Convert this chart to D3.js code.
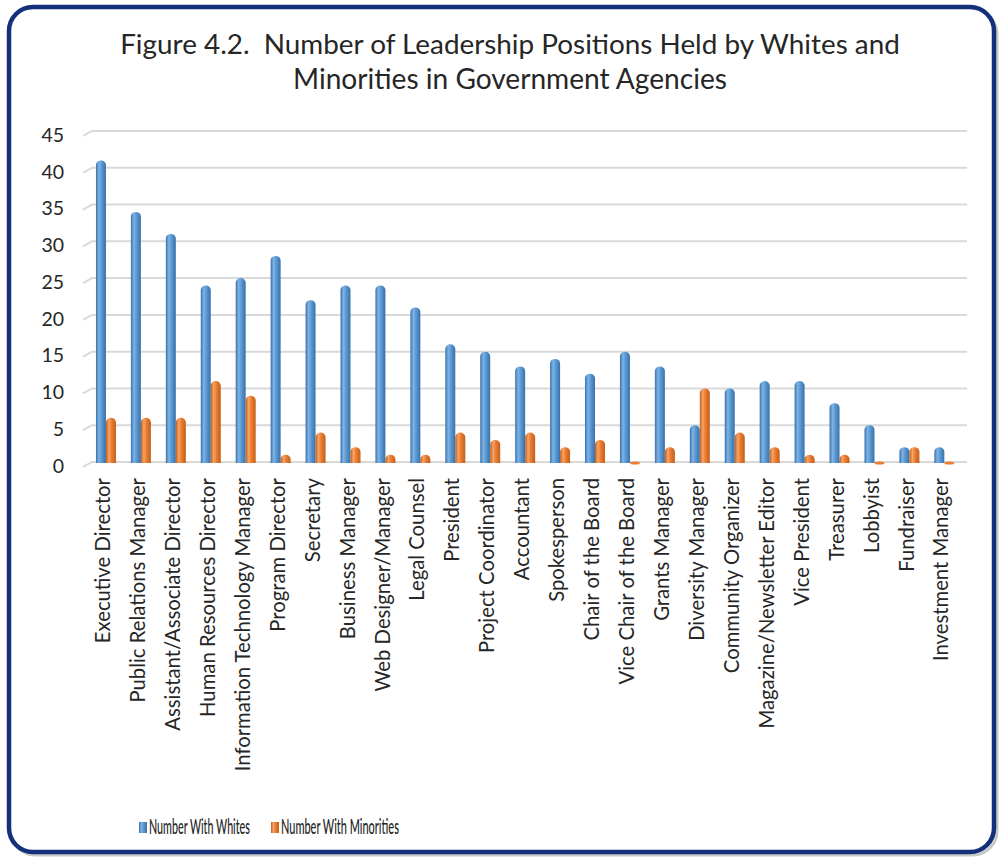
<!DOCTYPE html>
<html>
<head>
<meta charset="utf-8">
<script src="https://cdn.jsdelivr.net/npm/d3@7"></script>
<style>
  html, body { margin: 0; padding: 0; background: #ffffff; }
  svg { display: block; }
  text { font-family: Lato, "Open Sans", sans-serif; fill: #262626; }
</style>
</head>
<body>
<svg id="chart" width="1000" height="858"></svg>
<script>
// ---------- data ----------
const categories = [
  "Executive Director", "Public Relations Manager", "Assistant/Associate Director",
  "Human Resources Director", "Information Technology Manager", "Program Director",
  "Secretary", "Business Manager", "Web Designer/Manager", "Legal Counsel",
  "President", "Project Coordinator", "Accountant", "Spokesperson", "Chair of the Board",
  "Vice Chair of the Board", "Grants Manager", "Diversity Manager", "Community Organizer",
  "Magazine/Newsletter Editor", "Vice President", "Treasurer", "Lobbyist", "Fundraiser",
  "Investment Manager"
];
const whites = [41, 34, 31, 24, 25, 28, 22, 24, 24, 21, 16, 15, 13, 14, 12, 15, 13, 5, 10, 11, 11, 8, 5, 2, 2];
const minorities = [6, 6, 6, 11, 9, 1, 4, 2, 1, 1, 4, 3, 4, 2, 3, 0, 2, 10, 4, 2, 1, 1, 0, 2, 0];
const seriesNames = ["Number With Whites", "Number With Minorities"];
const yTicks = [0, 5, 10, 15, 20, 25, 30, 35, 40, 45];
const titleLines = ["Figure 4.2.  Number of Leadership Positions Held by Whites and",
                    "Minorities in Government Agencies"];

// ---------- setup ----------
const svg = d3.select("#chart");
const defs = svg.append("defs");

function cyl(id, c0, c1, c2) {
  const g = defs.append("linearGradient").attr("id", id)
    .attr("x1", "0%").attr("x2", "100%").attr("y1", "0%").attr("y2", "0%");
  g.append("stop").attr("offset", "0%").attr("stop-color", c2);
  g.append("stop").attr("offset", "30%").attr("stop-color", c0);
  g.append("stop").attr("offset", "55%").attr("stop-color", c1);
  g.append("stop").attr("offset", "100%").attr("stop-color", c2);
}
cyl("gBlue", "#7fb3e6", "#5b9bd5", "#3a70a8");
cyl("gOrange", "#f6a56a", "#ed7d31", "#c05f1b");
const fills = ["url(#gBlue)", "url(#gOrange)"];
const solid = ["#5b9bd5", "#ed7d31"];

// frame
svg.append("rect").attr("x", 11).attr("y", 10).attr("width", 986).attr("height", 845)
  .attr("rx", 24).attr("fill", "none").attr("stroke", "#c8c8c8").attr("stroke-width", 3);
svg.append("rect").attr("x", 9).attr("y", 7).attr("width", 985).attr("height", 845)
  .attr("rx", 24).attr("fill", "#ffffff").attr("stroke", "#14307a").attr("stroke-width", 4.5);

// scales
const x = d3.scaleBand().domain(categories).range([88.5, 961.8]).padding(0);
const x1 = d3.scaleBand().domain([0, 1]).range([-10, 10]).padding(0);
const y = d3.scaleLinear().domain([0, 45]).range([462, 131]);
const depthX = 9, depthY = 5;

// gridlines (3D back wall with slanted left edge)
const grid = svg.append("g");
yTicks.forEach(v => {
  grid.append("path")
    .attr("d", `M${83},${y(v) + depthY}L${83 + depthX},${y(v)}L${967},${y(v)}`)
    .attr("fill", "none").attr("stroke", "#d9d9d9").attr("stroke-width", 2);
});

// y tick labels
const yAxis = svg.append("g").attr("transform", "translate(64,4)")
  .call(d3.axisLeft(y).tickValues(yTicks).tickSize(0).tickPadding(0));
yAxis.select(".domain").remove();
yAxis.selectAll("text").style("font-size", "19.5px").attr("fill", "#262626")
  .style("font-family", "Lato, 'Open Sans', sans-serif");

// bars
function barPath(cx, w, v) {
  const x0 = cx - w / 2, top = y(v), base = y(0) + 1, ry = 4.5;
  if (v <= 0) {
    return `M${x0},${base}A${w / 2},1.6 0 0 1 ${x0 + w},${base}A${w / 2},1.6 0 0 1 ${x0},${base}Z`;
  }
  return `M${x0},${base}L${x0},${top + ry}A${w / 2},${ry} 0 0 1 ${x0 + w},${top + ry}L${x0 + w},${base}Z`;
}
const bars = svg.append("g");
const seriesData = [whites, minorities];
seriesData.forEach((vals, s) => {
  bars.selectAll(null).data(categories).enter().append("path")
    .attr("d", (c, i) => barPath(x(c) + x.bandwidth() / 2 + x1(s) + x1.bandwidth() / 2, 10, vals[i]))
    .attr("fill", (c, i) => vals[i] > 0 ? fills[s] : solid[s]);
});

// category labels
const xAxis = svg.append("g").attr("transform", "translate(-3,0)");
xAxis.selectAll("text").data(categories).enter().append("text")
  .attr("transform", c => `translate(${x(c) + x.bandwidth() / 2},478) rotate(-90)`)
  .attr("text-anchor", "end").attr("dy", "0.35em")
  .style("font-size", "20.3px")
  .text(c => c);

// title
svg.selectAll(".title").data(titleLines).enter().append("text")
  .attr("class", "title")
  .attr("x", 510).attr("y", (d, i) => 54 + i * 35)
  .attr("text-anchor", "middle")
  .style("font-size", "27px").style("white-space", "pre").attr("fill", "#262626")
  .text(d => d);
const titleTargets = [780, 434];
svg.selectAll(".title").each(function (d, i) {
  const w = this.getComputedTextLength();
  const fs = 27 * titleTargets[i] / w;
  d3.select(this).style("font-size", Math.min(fs, 30) + "px");
});

// legend (horizontally condensed text like the reference)
const legend = svg.append("g");
const legX = [139, 271], legW = [101, 118];
seriesNames.forEach((n, s) => {
  legend.append("rect").attr("x", legX[s]).attr("y", 822).attr("width", 8).attr("height", 11)
    .attr("fill", fills[s]);
  const g = legend.append("g");
  const t = g.append("text").attr("x", 0).attr("y", 0)
    .style("font-size", "21px").style("font-weight", "500").text(n);
  const w = t.node().getComputedTextLength();
  g.attr("transform", `translate(${legX[s] + 10},834) scale(${legW[s] / w},1)`);
});
</script>
</body>
</html>
